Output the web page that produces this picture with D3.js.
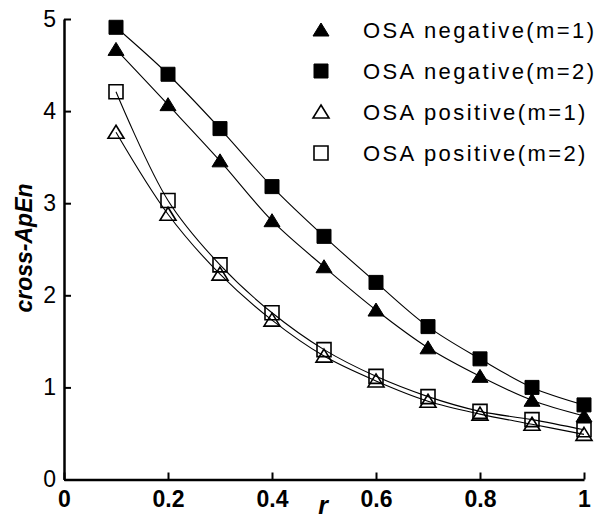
<!DOCTYPE html>
<html>
<head>
<meta charset="utf-8">
<script src="https://cdn.jsdelivr.net/npm/d3@7"></script>
<style>
body { margin: 0; background: #fff; }
svg { display: block; }
text { font-family: "Liberation Sans", Arial, sans-serif; fill: #000; }
</style>
</head>
<body>
<script>
// данные
var rValues = [0.1, 0.2, 0.3, 0.4, 0.5, 0.6, 0.7, 0.8, 0.9, 1.0];
var negM1 = [4.67, 4.07, 3.46, 2.81, 2.31, 1.84, 1.43, 1.12, 0.86, 0.69];
var negM2 = [4.91, 4.40, 3.81, 3.18, 2.64, 2.14, 1.66, 1.31, 1.00, 0.81];
var posM1 = [3.77, 2.88, 2.23, 1.73, 1.34, 1.07, 0.85, 0.71, 0.60, 0.49];
var posM2 = [4.21, 3.03, 2.33, 1.81, 1.41, 1.12, 0.90, 0.74, 0.65, 0.54];
var seriesNames = ["OSA negative(m=1)", "OSA negative(m=2)", "OSA positive(m=1)", "OSA positive(m=2)"];
var xTicks = [0, 0.2, 0.4, 0.6, 0.8, 1];
var yTicks = [0, 1, 2, 3, 4, 5];

var width = 596, height = 520;
var svg = d3.select("body").append("svg").attr("width", width).attr("height", height);

var x = d3.scaleLinear().domain([0, 1]).range([64, 584]);
var y = d3.scaleLinear().domain([0, 5]).range([479.5, 19]);

// оси: тики внутрь, подписи без лишних нулей
var xAxis = svg.append("g").attr("transform", "translate(0," + y(0) + ")")
	.call(d3.axisBottom(x).tickValues(xTicks).tickFormat(String).tickSize(-7).tickSizeOuter(0).tickPadding(11));
var yAxis = svg.append("g").attr("transform", "translate(" + x(0) + ",0)")
	.call(d3.axisLeft(y).tickValues(yTicks).tickFormat(String).tickSize(-7).tickSizeOuter(0).tickPadding(8));
[xAxis, yAxis].forEach(function(g) {
	g.select(".domain").attr("stroke", "#000").attr("stroke-width", 2.5);
	g.selectAll(".tick line").attr("stroke", "#000").attr("stroke-width", 2);
	g.selectAll("text").style("font-size", "23px").attr("fill", "#000");
});
xAxis.selectAll("text").style("font-weight", "bold");

// подписи осей
svg.append("text").attr("x", 323).attr("y", 514).attr("text-anchor", "middle")
	.style("font-size", "25px").style("font-weight", "bold").style("font-style", "italic").text("r");
svg.append("text").attr("transform", "translate(32,248) rotate(-90)").attr("text-anchor", "middle")
	.style("font-size", "23px").style("font-weight", "bold").style("font-style", "italic").text("cross-ApEn");

// маркеры
function marker(g, type, filled) {
	var p;
	if (type == "tri") p = "M0,-7L8,6L-8,6Z";
	else p = "M-7,-7H7V7H-7Z";
	g.append("path").attr("d", p)
		.attr("fill", filled ? "#000" : "none")
		.attr("stroke", "#000").attr("stroke-width", filled ? 1 : 1.6);
}

var series = [
	{ name: seriesNames[0], values: negM1, type: "tri", filled: true },
	{ name: seriesNames[1], values: negM2, type: "sq", filled: true },
	{ name: seriesNames[2], values: posM1, type: "tri", filled: false },
	{ name: seriesNames[3], values: posM2, type: "sq", filled: false }
];

var line = d3.line().curve(d3.curveCatmullRom.alpha(0.5))
	.x(function(d, i) { return x(rValues[i]); })
	.y(function(d) { return y(d); });

svg.append("g").selectAll("path").data(series).enter().append("path")
	.attr("d", function(s) { return line(s.values); })
	.attr("fill", "none").attr("stroke", "#000").attr("stroke-width", 1.1);

series.forEach(function(s) {
	s.values.forEach(function(v, i) {
		var g = svg.append("g").attr("transform", "translate(" + x(rValues[i]) + "," + y(v) + ")");
		marker(g, s.type, s.filled);
	});
});

// легенда
var rowsY = [30, 71, 112, 153];
series.forEach(function(s, i) {
	var g = svg.append("g").attr("transform", "translate(321," + rowsY[i] + ")");
	marker(g, s.type, s.filled);
	svg.append("text").attr("x", 363).attr("y", rowsY[i]).attr("dy", "0.36em")
		.style("font-size", "22px").style("letter-spacing", "2.4px").text(s.name);
});
</script>
</body>
</html>
